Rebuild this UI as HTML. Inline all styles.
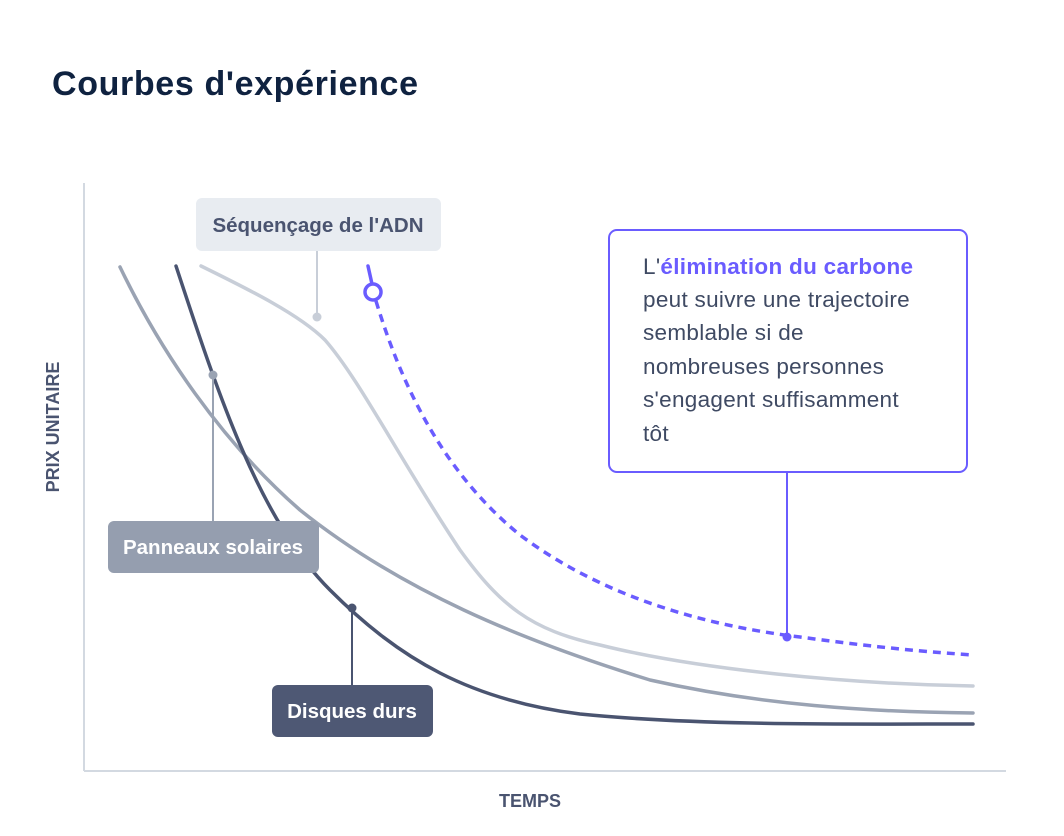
<!DOCTYPE html>
<html><head><meta charset="utf-8"><style>
html,body{margin:0;padding:0;background:#fff;}
svg{display:block;font-family:"Liberation Sans",sans-serif;}
</style></head><body>
<svg width="1064" height="836" viewBox="0 0 1064 836" xmlns="http://www.w3.org/2000/svg">
<text x="52" y="95" font-size="34" font-weight="bold" fill="#0f2240" textLength="366">Courbes d'expérience</text>
<line x1="84" y1="183" x2="84" y2="771" stroke="#d3d9e1" stroke-width="2"/>
<line x1="84" y1="771" x2="1006" y2="771" stroke="#d3d9e1" stroke-width="2"/>
<text x="0" y="0" transform="translate(59,427) rotate(-90)" text-anchor="middle" font-size="18" font-weight="bold" fill="#4a5470">PRIX UNITAIRE</text>
<text x="530" y="807" text-anchor="middle" font-size="18" font-weight="bold" fill="#4a5470">TEMPS</text>

<path d="M201,266 C250,290 300,315 325,340 C360,380 400,460 460,550 C500,605 530,630 600,645 C700,670 850,684 973,686" fill="none" stroke="#c8ced8" stroke-width="3.5" stroke-linecap="round"/>
<path d="M120,267 C160,350 220,440 300,510 C400,590 520,640 650,680 C760,705 870,712 973,713" fill="none" stroke="#9aa3b3" stroke-width="3.5" stroke-linecap="round"/>
<path d="M176,266 C220,400 260,520 330,590 C400,660 470,700 580,714 C700,726 850,724 973,724" fill="none" stroke="#4a5470" stroke-width="3.5" stroke-linecap="round"/>
<line x1="368" y1="266" x2="372" y2="284" stroke="#6a5cff" stroke-width="3.5" stroke-linecap="round"/>
<path d="M376,301 C400,380 440,470 520,535 C600,595 700,625 800,637 C880,648 930,652 973,655" fill="none" stroke="#6a5cff" stroke-width="3.5" stroke-dasharray="8,6"/>
<circle cx="373" cy="292" r="8" fill="#fff" stroke="#6a5cff" stroke-width="3.5"/>

<rect x="196" y="198" width="245" height="53" rx="6" fill="#e8ecf1"/>
<text x="318" y="232" text-anchor="middle" font-size="20.5" font-weight="bold" fill="#4a5470">Séquençage de l'ADN</text>
<line x1="317" y1="251" x2="317" y2="317" stroke="#c8ced8" stroke-width="2"/>
<circle cx="317" cy="317" r="4.5" fill="#c8ced8"/>

<line x1="213" y1="375" x2="213" y2="521" stroke="#9aa3b3" stroke-width="2"/>
<circle cx="213" cy="375" r="4.5" fill="#9aa3b3"/>
<rect x="108" y="521" width="211" height="52" rx="6" fill="#959eaf"/>
<text x="213" y="554" text-anchor="middle" font-size="20.5" font-weight="bold" fill="#fff">Panneaux solaires</text>

<line x1="352" y1="608" x2="352" y2="685" stroke="#4a5470" stroke-width="2"/>
<circle cx="352" cy="608" r="4.5" fill="#4a5470"/>
<rect x="272" y="685" width="161" height="52" rx="6" fill="#4e5874"/>
<text x="352" y="718" text-anchor="middle" font-size="20.5" font-weight="bold" fill="#fff">Disques durs</text>

<rect x="609" y="230" width="358" height="242" rx="8" fill="#fff" stroke="#6a5cff" stroke-width="2"/>
<line x1="787" y1="472" x2="787" y2="637" stroke="#6a5cff" stroke-width="2"/>
<circle cx="787" cy="637" r="4.5" fill="#6a5cff"/>
<g font-size="22.5" fill="#3f4a63" letter-spacing="0.3">
<text x="643" y="274">L'<tspan fill="#6a5cff" font-weight="bold">élimination du carbone</tspan></text>
<text x="643" y="307">peut suivre une trajectoire</text>
<text x="643" y="340">semblable si de</text>
<text x="643" y="374">nombreuses personnes</text>
<text x="643" y="407">s'engagent suffisamment</text>
<text x="643" y="441">tôt</text>
</g>
</svg>
</body></html>
